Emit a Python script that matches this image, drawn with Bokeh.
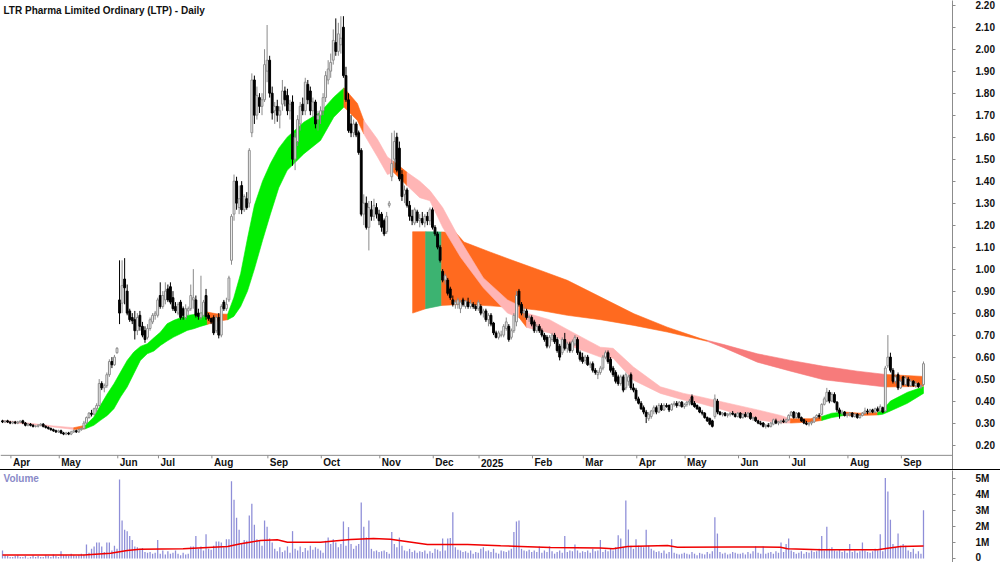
from bokeh.plotting import figure
from bokeh.models import (Range1d, FixedTicker, NumeralTickFormatter, CustomJSTickFormatter,
                          ColumnDataSource, Label, Span, Div)
from bokeh.layouts import column
from bokeh.embed import file_html
from bokeh.resources import INLINE
from bokeh.core.properties import value

# ---------------------------------------------------------------- data
title_text = "LTR Pharma Limited Ordinary (LTP) - Daily"

month_labels = ["", "Apr", "May", "Jun", "Jul", "Aug", "Sep", "Oct", "Nov", "Dec",
                "2025", "Feb", "Mar", "Apr", "May", "Jun", "Jul", "Aug", "Sep"]
month_bars = [4, 19, 23, 16, 21, 22, 21, 23, 21, 18, 21, 20, 21, 19, 21, 20, 23, 21, 9]

price_ticks = [0.20, 0.30, 0.40, 0.50, 0.60, 0.70, 0.80, 0.90, 1.00, 1.10, 1.20,
               1.30, 1.40, 1.50, 1.60, 1.70, 1.80, 1.90, 2.00, 2.10, 2.20]
volume_ticks = [0, 1, 2, 3, 4, 5]  # millions

opens = [
 .31, .305, .31, .305,
 .30, .305, .30, .305, .31, .30, .29, .295, .29, .285, .285, .29, .295, .285, .28, .275, .27, .265, .26,
 .265, .255, .25, .255, .25, .26, .265, .26, .27, .275, .30, .325, .345, .34, .365, .38, .48, .46, .47, .52, .58, .565, .62,
 .86, .845, .955, .90, .81, .78, .77, .72, .79, .74, .72, .69, .73, .76, .79, .79,
 .88, .83, .86, .91, .92, .87, .83, .80, .85, .82, .78, .81, .82, .86, .86, .80, .78, .79, .88, .79, .775,
 .78, .72, .78, .70, .85, .82, .86, 1.04, 1.25, 1.40, 1.28, 1.38, 1.27, 1.32, 1.30, 1.62, 1.86, 1.70, 1.78, 1.74, 1.77, 1.90,
 1.95, 1.80, 1.72, 1.74, 1.70, 1.75, 1.81, 1.79, 1.72, 1.76, 1.50, 1.58, 1.66, 1.75, 1.72, 1.84, 1.81, 1.72, 1.76, 1.68, 1.70,
 1.72, 1.78, 1.86, 1.90, 1.95, 2.03, 1.99, 2.02, 2.10, 1.88, 1.77, 1.66, 1.62, 1.66, 1.62, 1.54, 1.25, 1.30, 1.19, 1.27, 1.24, 1.28, 1.25,
 1.25, 1.22, 1.17, 1.29, 1.42, 1.50, 1.60, 1.55, 1.43, 1.34, 1.36, 1.29, 1.24, 1.21, 1.26, 1.22, 1.23, 1.21, 1.24, 1.22, 1.27,
 1.19, 1.16, 1.10, .99, .95, .95, .91, .86, .84, .84, .82, .86, .83, .85, .83, .84, .83, .82,
 .83, .80, .81, .77, .79, .755, .71, .69, .70, .70, .73, .74, .69, .72, .76, .90, .84, .80, .81, .78, .78,
 .76, .72, .74, .72, .70, .69, .65, .68, .70, .68, .65, .62, .68, .64, .66, .63, .66, .68, .62, .60,
 .585, .60, .565, .57, .54, .52, .53, .55, .60, .62, .59, .55, .53, .51, .48, .51, .46, .49, .52, .46, .45,
 .41, .39, .37, .35, .32, .33, .355, .37, .35, .38, .36, .38, .38, .36, .385, .39, .38, .395, .375,
 .385, .395, .42, .39, .38, .37, .35, .345, .325, .32, .31, .33, .40, .35, .34, .345, .335, .34, .345, .34, .33,
 .345, .325, .34, .33, .345, .32, .325, .31, .30, .30, .285, .29, .285, .295, .31, .30, .305, .31, .305, .315,
 .335, .35, .325, .345, .325, .315, .30, .295, .30, .305, .325, .335, .34, .385, .40, .44, .40, .43, .395, .36, .345, .35, .335,
 .34, .345, .33, .34, .325, .335, .345, .355, .35, .36, .35, .365, .355, .37, .355, .56, .60, .54, .49, .52, .46,
 .51, .475, .50, .47, .49, .47, .48, .465, .475,
]
highs = [
 .315, .31, .315, .31,
 .31, .31, .31, .31, .315, .305, .30, .30, .295, .29, .295, .30, .30, .29, .285, .28, .275, .27, .27,
 .27, .26, .26, .26, .265, .27, .27, .275, .28, .31, .33, .35, .36, .37, .39, .50, .49, .48, .53, .59, .60, .61, .645,
 1.04, 1.04, 1.05, .93, .82, .80, .81, .80, .81, .76, .74, .75, .78, .80, .81, .87,
 .94, .90, .94, .93, .94, .90, .85, .85, .86, .83, .84, .83, .93, 1.00, .88, .82, .97, .86, .91, .80, .78,
 .79, .79, .80, .84, .86, .87, .97, 1.25, 1.43, 1.42, 1.38, 1.40, 1.34, 1.35, 1.55, 1.89, 1.88, 1.83, 1.80, 1.80, 2.00, 2.11,
 1.97, 1.83, 1.76, 1.77, 1.74, 1.86, 1.83, 1.82, 1.77, 1.79, 1.62, 1.70, 1.76, 1.78, 1.87, 1.86, 1.83, 1.78, 1.77, 1.72, 1.74,
 1.80, 1.90, 1.95, 1.98, 2.09, 2.14, 2.12, 2.15, 2.15, 1.92, 1.80, 1.70, 1.68, 1.67, 1.63, 1.55, 1.34, 1.33, 1.31, 1.31, 1.32, 1.30, 1.27,
 1.26, 1.23, 1.26, 1.31, 1.62, 1.63, 1.62, 1.58, 1.45, 1.38, 1.37, 1.31, 1.27, 1.28, 1.27, 1.25, 1.26, 1.25, 1.26, 1.28, 1.28,
 1.20, 1.17, 1.11, 1.00, .98, .96, .92, .88, .86, .87, .86, .87, .86, .87, .86, .85, .84, .86,
 .84, .82, .82, .80, .80, .76, .72, .72, .72, .75, .78, .75, .73, .80, .90, .91, .85, .83, .82, .79, .79,
 .77, .75, .75, .73, .71, .70, .70, .71, .71, .69, .66, .69, .71, .67, .67, .68, .70, .69, .63, .62,
 .61, .61, .58, .58, .55, .54, .56, .61, .63, .63, .60, .56, .54, .52, .52, .52, .53, .52, .53, .48, .46,
 .42, .40, .38, .36, .35, .36, .38, .38, .39, .39, .39, .39, .385, .39, .40, .40, .40, .40, .39,
 .40, .41, .43, .40, .385, .375, .36, .35, .33, .325, .315, .43, .41, .355, .35, .35, .345, .35, .355, .345, .35,
 .35, .345, .35, .35, .35, .33, .33, .315, .31, .305, .295, .30, .305, .32, .32, .31, .315, .32, .32, .34,
 .355, .355, .35, .35, .33, .32, .31, .305, .31, .33, .34, .345, .39, .42, .46, .45, .44, .44, .40, .37, .36, .355, .345,
 .35, .35, .345, .345, .34, .35, .37, .365, .365, .365, .37, .375, .385, .375, .56, .70, .62, .55, .52, .53, .50,
 .515, .515, .51, .50, .495, .49, .485, .475, .58,
]
lows = [
 .30, .30, .30, .295,
 .295, .295, .295, .30, .295, .285, .285, .285, .28, .28, .28, .285, .28, .275, .27, .265, .26, .255, .255,
 .25, .245, .245, .245, .245, .255, .255, .255, .265, .27, .295, .32, .33, .335, .35, .375, .45, .44, .46, .51, .55, .56, .615,
 .75, .80, .84, .79, .76, .75, .68, .70, .72, .69, .665, .68, .72, .75, .77, .78,
 .82, .82, .84, .85, .84, .81, .80, .79, .77, .77, .77, .79, .81, .82, .78, .77, .77, .78, .77, .765, .75,
 .70, .71, .685, .69, .81, .81, .85, 1.02, 1.22, 1.27, 1.25, 1.25, 1.26, 1.27, 1.28, 1.60, 1.66, 1.68, 1.71, 1.70, 1.76, 1.85,
 1.78, 1.68, 1.66, 1.67, 1.64, 1.72, 1.74, 1.70, 1.68, 1.47, 1.45, 1.56, 1.63, 1.70, 1.70, 1.75, 1.70, 1.69, 1.64, 1.63, 1.66,
 1.70, 1.76, 1.84, 1.87, 1.93, 1.97, 1.97, 1.98, 1.87, 1.76, 1.62, 1.60, 1.60, 1.60, 1.52, 1.24, 1.20, 1.18, 1.085, 1.22, 1.22, 1.23, 1.20,
 1.17, 1.15, 1.16, 1.28, 1.40, 1.46, 1.44, 1.40, 1.31, 1.30, 1.28, 1.22, 1.20, 1.20, 1.21, 1.19, 1.20, 1.19, 1.20, 1.20, 1.18,
 1.15, 1.09, 1.03, .94, .93, .88, .86, .83, .82, .82, .80, .83, .82, .82, .82, .82, .81, .81,
 .79, .78, .76, .74, .74, .70, .685, .68, .69, .69, .72, .67, .68, .71, .74, .83, .79, .78, .77, .76, .74,
 .71, .71, .71, .69, .67, .64, .64, .67, .66, .62, .585, .61, .63, .62, .62, .62, .65, .61, .58, .57,
 .57, .56, .55, .53, .52, .50, .52, .54, .59, .57, .53, .51, .48, .47, .47, .44, .45, .47, .45, .44, .40,
 .385, .36, .34, .30, .31, .32, .34, .34, .345, .355, .355, .37, .35, .355, .375, .37, .375, .37, .365,
 .375, .38, .38, .37, .36, .345, .335, .32, .305, .29, .28, .32, .34, .335, .33, .33, .325, .33, .335, .325, .325,
 .32, .32, .325, .325, .315, .31, .305, .295, .29, .28, .275, .28, .28, .29, .295, .29, .295, .30, .30, .31,
 .33, .32, .32, .32, .305, .295, .29, .285, .29, .30, .32, .32, .335, .38, .395, .39, .395, .39, .35, .32, .335, .33, .325,
 .33, .325, .325, .32, .32, .33, .34, .34, .345, .345, .345, .35, .35, .345, .35, .55, .53, .48, .48, .45, .455,
 .47, .47, .465, .465, .465, .46, .46, .455, .47,
]
closes = [
 .305, .31, .305, .30,
 .305, .30, .305, .31, .30, .29, .295, .29, .285, .285, .29, .295, .285, .28, .275, .27, .265, .26, .265,
 .255, .25, .255, .25, .26, .265, .26, .27, .275, .30, .325, .345, .34, .365, .38, .48, .46, .47, .52, .58, .565, .60, .64,
 .80, .925, .915, .80, .77, .765, .72, .78, .74, .70, .68, .73, .77, .79, .80, .86,
 .83, .88, .90, .86, .85, .82, .81, .84, .78, .79, .82, .82, .88, .87, .79, .785, .80, .85, .785, .775, .76,
 .71, .78, .70, .83, .82, .84, .96, 1.24, 1.40, 1.30, 1.32, 1.27, 1.33, 1.28, 1.54, 1.86, 1.70, 1.79, 1.74, 1.77, 1.93, 1.95,
 1.80, 1.71, 1.74, 1.70, 1.72, 1.81, 1.77, 1.72, 1.75, 1.50, 1.60, 1.68, 1.74, 1.72, 1.85, 1.77, 1.72, 1.76, 1.66, 1.70, 1.72,
 1.78, 1.88, 1.91, 1.94, 2.04, 1.99, 2.07, 2.05, 1.88, 1.77, 1.63, 1.62, 1.66, 1.61, 1.53, 1.25, 1.30, 1.19, 1.28, 1.24, 1.29, 1.25, 1.22,
 1.19, 1.16, 1.24, 1.30, 1.48, 1.58, 1.45, 1.41, 1.33, 1.36, 1.29, 1.24, 1.22, 1.27, 1.22, 1.23, 1.21, 1.24, 1.22, 1.27, 1.19,
 1.16, 1.10, 1.04, .95, .97, .89, .87, .84, .85, .86, .85, .84, .855, .83, .845, .83, .82, .85,
 .80, .81, .77, .79, .75, .71, .69, .71, .70, .74, .76, .68, .72, .79, .88, .84, .80, .81, .78, .785, .75,
 .72, .74, .72, .70, .68, .65, .69, .70, .67, .63, .60, .68, .64, .66, .63, .67, .69, .62, .59, .58,
 .60, .565, .57, .54, .53, .53, .55, .60, .62, .58, .54, .52, .49, .48, .51, .45, .52, .51, .46, .45, .41,
 .39, .365, .35, .33, .34, .355, .37, .35, .38, .36, .38, .375, .36, .385, .39, .38, .395, .375, .385,
 .395, .40, .385, .375, .365, .35, .345, .325, .31, .295, .285, .41, .35, .34, .345, .335, .34, .345, .34, .33, .345,
 .325, .34, .33, .345, .32, .325, .31, .30, .295, .285, .29, .285, .30, .315, .30, .305, .31, .305, .315, .335,
 .35, .325, .345, .325, .31, .30, .295, .30, .305, .325, .335, .33, .385, .41, .44, .40, .43, .395, .36, .345, .35, .335, .34,
 .345, .33, .34, .325, .335, .345, .355, .35, .36, .35, .365, .355, .375, .35, .55, .60, .54, .49, .51, .46, .49,
 .475, .505, .47, .49, .47, .48, .465, .47, .57,
]
volumes = [  # millions of shares
 0.5, 0.2, 0.15, 0.1,
 0.1, 0.15, 0.2, 0.1, 0.1, 0.15, 0.05, 0.1, 0.2, 0.1, 0.15, 0.1, 0.1, 0.2, 0.15, 0.1, 0.25, 0.15, 0.1,
 0.45, 0.2, 0.2, 0.15, 0.3, 0.2, 0.15, 0.2, 0.3, 0.25, 0.87, 0.35, 0.6, 0.75, 1.0, 1.0, 0.75, 0.4, 1.0, 1.0, 0.5, 0.8, 0.6,
 4.9, 2.36, 1.78, 1.7, 1.4, 1.15, 0.75, 0.7, 0.6, 0.65, 0.4, 0.35, 0.4, 0.3, 0.35, 1.15,
 0.3, 0.5, 0.25, 0.45, 0.3, 0.35, 0.5, 0.3, 0.2, 0.35, 0.25, 0.3, 0.75, 0.75, 1.4, 0.6, 0.75, 0.5, 1.5, 0.6, 0.55,
 0.8, 1.05, 1.05, 1.0, 0.7, 1.2, 1.2, 4.8, 3.65, 2.53, 1.78, 0.9, 1.15, 1.1, 2.67, 3.4, 2.09, 1.2, 1.15, 0.8, 2.36, 1.98,
 1.25, 1.0, 0.6, 0.45, 0.7, 0.4, 0.5, 0.75, 0.35, 1.7, 0.6, 0.5, 0.75, 0.4, 0.65, 0.5, 0.8, 0.55, 0.7, 0.6, 0.5,
 0.35, 1.1, 1.3, 0.9, 1.2, 1.0, 0.7, 0.9, 2.3, 0.8, 1.95, 0.9, 0.6, 0.8, 0.9, 3.48, 1.98, 1.3, 2.36, 0.6, 0.45, 0.5, 0.4,
 0.45, 0.5, 0.4, 0.3, 1.65, 0.9, 0.7, 1.3, 0.8, 0.5, 0.45, 0.6, 0.4, 0.5, 0.35, 0.45, 0.4, 0.5, 0.3, 0.45, 0.35,
 0.6, 0.55, 0.45, 1.25, 0.5, 1.25, 1.28, 2.88, 0.7, 0.55, 0.5, 0.4, 0.45, 0.35, 0.5, 0.3, 0.4, 0.35,
 0.6, 0.7, 0.45, 0.5, 0.4, 0.6, 0.35, 0.3, 0.5, 0.45, 0.4, 0.5, 0.6, 1.65, 2.3, 2.36, 0.6, 0.5, 0.45, 0.55, 0.4,
 0.5, 0.4, 0.75, 0.35, 0.5, 0.4, 0.75, 0.45, 0.3, 0.4, 0.5, 0.35, 1.4, 0.4, 0.5, 0.45, 0.87, 0.5, 0.35, 0.45,
 0.4, 0.5, 0.35, 0.6, 0.45, 0.5, 1.15, 0.4, 0.55, 0.45, 0.6, 0.5, 0.7, 1.45, 1.25, 0.7, 3.6, 1.8, 0.8, 0.6, 1.2,
 0.8, 0.75, 0.7, 1.78, 0.8, 0.6, 0.5, 0.4, 0.45, 0.35, 0.5, 0.3, 0.4, 1.2, 0.35, 0.3, 0.25, 0.3, 0.35,
 0.3, 0.25, 0.4, 0.3, 0.2, 0.35, 0.3, 0.25, 0.4, 0.3, 0.45, 2.57, 1.55, 0.4, 0.3, 0.35, 0.25, 0.3, 0.4, 0.35, 0.3,
 0.3, 0.35, 0.25, 0.4, 0.3, 0.45, 0.75, 0.35, 0.3, 0.75, 0.3, 0.35, 0.4, 0.3, 0.45, 0.35, 1.0, 0.4, 0.9, 1.25,
 0.5, 0.4, 0.3, 0.35, 0.45, 0.3, 0.4, 0.35, 0.5, 0.4, 0.45, 0.6, 1.4, 0.5, 1.98, 0.6, 0.7, 0.5, 0.45, 0.55, 0.4, 0.5, 0.35,
 0.9, 0.4, 0.5, 0.35, 0.45, 1.0, 0.5, 0.4, 0.35, 0.45, 0.6, 0.5, 1.5, 0.45, 5.0, 4.16, 2.4, 0.9, 0.7, 1.55, 0.8,
 0.9, 0.8, 0.5, 0.4, 0.6, 0.3, 0.45, 0.3, 3.0,
]

# volume moving average (read at sample bars)
vma_bar = [0, 32, 42.5, 49, 54, 71, 88.5, 93.6, 101.4, 108, 112, 125, 136.8, 145.8, 152.5, 167,
           182.8, 195.8, 203.6, 215.4, 235, 240, 245.7, 261.4, 265.3, 287.3, 305.8, 308.6, 321.5,
           344, 347.9, 353, 362]
vma_val = [0.22, 0.22, 0.33, 0.5, 0.58, 0.6, 0.75, 0.91, 1.12, 1.16, 1.01, 1.01, 1.18, 1.24, 1.2,
           0.87, 0.87, 0.79, 0.75, 0.68, 0.66, 0.6, 0.75, 0.81, 0.7, 0.72, 0.7, 0.6, 0.54, 0.54,
           0.64, 0.75, 0.77]

# short-term trend ribbon (read at sample bars); state applies to span up to next sample
fast_bar = [0, 10, 20, 28, 32.6, 35.9, 38.5, 41.2, 43.8, 46.4, 49, 51.6, 54.2, 56.9, 59.5, 62.1,
            64.7, 67.3, 70, 72.6, 75.2, 77.8, 80.5, 84, 88.5, 90.9, 93.6, 96.3, 99, 102.2, 105.3,
            108.6, 111.9, 118.4, 125, 130.2, 134.2, 139.5, 142, 147.4, 151.3, 153.7, 159, 164, 168,
            173, 180, 189, 198.5, 203, 206, 215, 224.5, 235, 240, 248, 258.6, 267.7, 274, 283.4,
            296.8, 305.8, 309.7, 317.6, 322, 326, 331, 337, 344, 346, 349, 355.7, 362]
fast_top = [0.312, 0.300, 0.287, 0.279, 0.290, 0.3275, 0.3805, 0.4335, 0.479, 0.532, 0.585, 0.623,
            0.6486, 0.6608, 0.688, 0.7138, 0.7517, 0.767, 0.7789, 0.7895, 0.794, 0.8002, 0.8047,
            0.797, 0.795, 0.87, 0.98, 1.14, 1.29, 1.40, 1.48, 1.55, 1.60, 1.668, 1.714, 1.782,
            1.824, 1.753, 1.676, 1.59, 1.51, 1.49, 1.44, 1.40, 1.357, 1.28, 1.13, 0.96, 0.86, 0.835,
            0.80, 0.77, 0.71, 0.645, 0.64, 0.555, 0.465, 0.435, 0.42, 0.395, 0.36, 0.335, 0.32,
            0.32, 0.33, 0.345, 0.35, 0.345, 0.348, 0.36, 0.40, 0.44, 0.465]
fast_bot = [0.306, 0.295, 0.282, 0.271, 0.274, 0.290, 0.3123, 0.335, 0.3653, 0.4183, 0.4638,
            0.5244, 0.585, 0.6153, 0.6274, 0.6532, 0.6729, 0.691, 0.7062, 0.7214, 0.729, 0.7396,
            0.7486, 0.762, 0.770, 0.785, 0.83, 0.90, 1.00, 1.13, 1.25, 1.37, 1.449, 1.524, 1.585,
            1.691, 1.737, 1.676, 1.615, 1.51, 1.43, 1.44, 1.38, 1.325, 1.311, 1.19, 1.055, 0.915,
            0.80, 0.78, 0.735, 0.71, 0.645, 0.60, 0.595, 0.495, 0.435, 0.405, 0.39, 0.36, 0.315,
            0.30, 0.30, 0.305, 0.312, 0.325, 0.335, 0.335, 0.337, 0.34, 0.355, 0.39, 0.435]
fast_state = ["p", "p", "p", "o",
              "g", "g", "g", "g", "g", "g", "g", "g", "g", "g", "g", "g", "g", "g", "g", "g", "g", "g",
              "o", "o",
              "g", "g", "g", "g", "g", "g", "g", "g", "g", "g", "g", "g",
              "o", "o", "p", "p", "p", "o",
              "p", "p", "p", "p", "p", "p", "p", "o",
              "p", "p", "p", "p", "p", "p", "p", "p", "p", "p", "p", "p",
              "o", "o", "g", "g", "o", "o", "g", "g", "g", "g"]

# long-term trend ribbon (read at sample bars)
slow_bar = [161.2, 166.3, 172.6, 178, 181.4, 191.8, 202.3, 211.5, 222, 235.1, 248.2, 261.3,
            274.4, 277, 283.5, 296.7, 309.8, 322.8, 336, 347.1, 362]
slow_top = [1.17, 1.17, 1.169, 1.168, 1.123, 1.077, 1.032, 0.994, 0.949, 0.873, 0.797, 0.736,
            0.684, 0.676, 0.657, 0.615, 0.585, 0.558, 0.536, 0.521, 0.512]
slow_bot = [0.80, 0.82, 0.835, 0.838, 0.84, 0.833, 0.824, 0.812, 0.79, 0.77, 0.744, 0.714,
            0.679, 0.672, 0.643, 0.577, 0.536, 0.497, 0.479, 0.464, 0.467]
slow_state = ["o", "d", "o", "o", "o", "o", "o", "o", "o", "o", "o", "o", "o", "s", "s", "s",
              "s", "s", "s", "o"]

# ---------------------------------------------------------------- styling
FONT = "Liberation Sans"
STATE_COLORS = {"g": "#00EE00", "o": "#FF6A1F", "p": "#FFB5B5", "s": "#F77B7B", "d": "#3CB371"}
AXIS_GREY = "#8C8C8C"

X_LO, X_HI = -0.79, 373.4          # bar i sits at 2 + 2.544*i px
P_TOP, P_BOT = 2.2214, 0.0889      # 220 px per 1.00
PX = 220.0
V_TOP, V_BOT = 5.466, -0.248

def price_at(px_y):
    return P_TOP - px_y / PX

n = min(len(opens), len(highs), len(lows), len(closes), len(volumes))
bars = list(range(n))
up = [closes[i] >= opens[i] for i in bars]

p = figure(width=1000, height=469, x_range=Range1d(X_LO, X_HI), y_range=Range1d(P_BOT, P_TOP),
           output_backend="svg", toolbar_location=None, y_axis_location="right",
           x_axis_location=None, min_border_left=0, min_border_right=48,
           min_border_top=0, min_border_bottom=0)
p.outline_line_color = None
p.xgrid.visible = False
p.ygrid.visible = False
p.background_fill_color = "white"
p.border_fill_color = "white"

yax = p.yaxis[0]
yax.ticker = FixedTicker(ticks=price_ticks)
yax.formatter = NumeralTickFormatter(format="0.00")
yax.major_label_text_font = FONT
yax.major_label_text_font_style = "bold"
yax.major_label_text_font_size = "10px"
yax.major_label_text_color = "#111111"
yax.axis_line_color = AXIS_GREY
yax.major_tick_line_color = AXIS_GREY
yax.major_tick_out = 3
yax.major_tick_in = 0
yax.minor_tick_line_color = None
yax.major_label_standoff = 20


def draw_ribbon(fig, xs, tops, bots, states):
    k = 0
    while k < len(states):
        s = states[k]
        j = k
        while j + 1 < len(states) and states[j + 1] == s:
            j += 1
        sx = list(xs[k:j + 2])
        st = list(tops[k:j + 2])
        sb = list(bots[k:j + 2])
        col = STATE_COLORS[s]
        fig.patch(sx + sx[::-1], st + sb[::-1], fill_color=col, line_color=col, line_width=0.6)
        k = j + 1


draw_ribbon(p, slow_bar, slow_top, slow_bot, slow_state)
draw_ribbon(p, fast_bar, fast_top, fast_bot, fast_state)

src = ColumnDataSource(dict(
    x=bars,
    hi=highs[:n], lo=lows[:n],
    top=[max(opens[i], closes[i]) for i in bars],
    bot=[min(opens[i], closes[i]) for i in bars],
    fill=["white" if u else "black" for u in up],
    line=["#8A8A8A" if u else "black" for u in up],
))
p.segment(x0="x", y0="lo", x1="x", y1="hi", line_color="line", line_width=1, source=src)
p.vbar(x="x", width=0.72, top="top", bottom="bot", fill_color="fill", line_color="line",
       line_width=1, source=src)

# date strip
p.add_layout(Span(location=price_at(455), dimension="width", line_color=AXIS_GREY, line_width=1))
starts = []
acc = 0
for c in month_bars:
    starts.append(acc)
    acc += c
tick_x = [s - 0.7 for s, lab in zip(starts, month_labels) if lab]
tick_lab = [lab for lab in month_labels if lab]
p.segment(x0=tick_x, y0=[price_at(455)] * len(tick_x), x1=tick_x, y1=[price_at(458)] * len(tick_x),
          line_color=AXIS_GREY, line_width=1)
p.text(x=tick_x, y=[price_at(462.5)] * len(tick_x), text=tick_lab, x_offset=2,
       text_align="left", text_baseline="middle", text_font=value(FONT),
       text_font_style="bold", text_font_size="10px", text_color="#111111")

p.add_layout(Label(x=X_LO, y=price_at(10), x_offset=3, text=title_text, text_font=FONT,
                   text_font_style="bold", text_font_size="10px", text_color="#111111",
                   text_baseline="middle", text_align="left"))

sep = Div(text="", width=1000, height=1, styles={"background-color": "#000000"},
          margin=(0, 0, 0, 0))

v = figure(width=1000, height=92, x_range=p.x_range, y_range=Range1d(V_BOT, V_TOP),
           output_backend="svg", toolbar_location=None, y_axis_location="right",
           x_axis_location=None, min_border_left=0, min_border_right=48,
           min_border_top=0, min_border_bottom=0)
v.outline_line_color = None
v.xgrid.visible = False
v.ygrid.visible = False
vax = v.yaxis[0]
vax.ticker = FixedTicker(ticks=volume_ticks)
vax.formatter = CustomJSTickFormatter(code="return tick == 0 ? '0' : tick.toFixed(0) + 'M';")
vax.major_label_text_font = FONT
vax.major_label_text_font_style = "bold"
vax.major_label_text_font_size = "10px"
vax.major_label_text_color = "#111111"
vax.axis_line_color = AXIS_GREY
vax.major_tick_line_color = AXIS_GREY
vax.major_tick_out = 3
vax.major_tick_in = 0
vax.minor_tick_line_color = None
vax.major_label_standoff = 20

v.vbar(x=bars, width=0.5, top=volumes[:n], bottom=0, fill_color="#8E8ED8", line_color=None)
v.line(vma_bar, vma_val, line_color="#F00000", line_width=1.5)
v.add_layout(Label(x=X_LO, y=V_TOP - 8 / 16.1, x_offset=3, text="Volume", text_font=FONT,
                   text_font_style="bold", text_font_size="10px", text_color="#8A8AC8",
                   text_baseline="middle", text_align="left"))

layout = column(p, sep, v, spacing=0)
open("out.html", "w").write(file_html(layout, INLINE))
